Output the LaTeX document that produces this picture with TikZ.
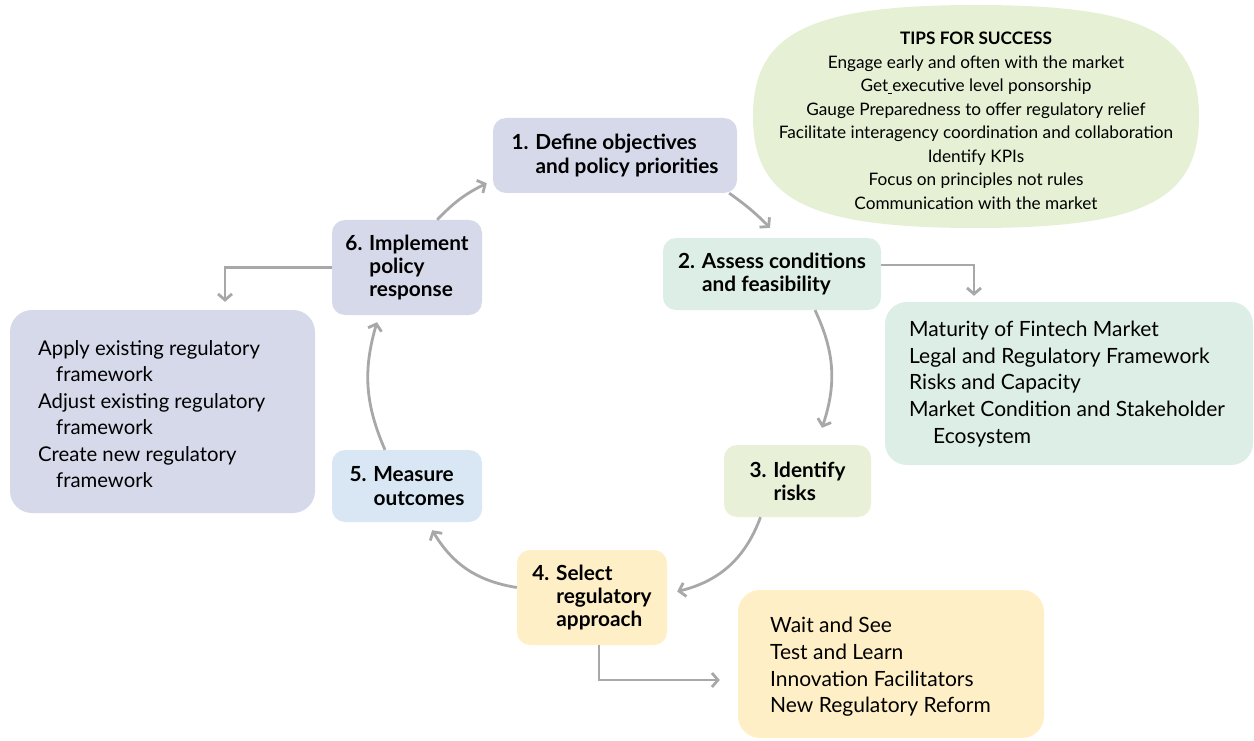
\documentclass[tikz,border=0pt]{standalone}
\usepackage{fontspec}
\setmainfont{Lato}
\usetikzlibrary{arrows.meta}
\definecolor{lav}{HTML}{D6D9EA}
\definecolor{mint}{HTML}{DDEEE6}
\definecolor{lgreen}{HTML}{E8F1D8}
\definecolor{lyellow}{HTML}{FEEFC7}
\definecolor{lblue}{HTML}{D9E7F5}
\definecolor{tipsgreen}{HTML}{E6F0D4}
\definecolor{arrowgray}{HTML}{A8A8AA}
\newcommand\myind{\hspace*{24pt}}
\begin{document}
\begin{tikzpicture}[x=1pt,y=-1pt,
  stepbox/.style={rounded corners=13pt, align=left, inner sep=0pt,
    font=\bfseries\fontsize{20.8}{23.3}\selectfont},
  bigbox/.style={rounded corners=22pt, inner sep=0pt},
  listtext/.style={anchor=west, align=left, inner sep=0pt,
    font=\fontsize{21}{26.7}\selectfont},
  flow/.style={draw=arrowgray, line width=2.8pt,
    -{Straight Barb[length=6pt,width=14pt]}}]
\useasboundingbox (0,0) rectangle (1254,741);

% tips blob (squircle-like)
\fill[tipsgreen] (1199,116.5)
  .. controls (1199,33) and (1143,5) .. (976,5)
  .. controls (809,5) and (753,33) .. (753,116.5)
  .. controls (753,200) and (809,228) .. (976,228)
  .. controls (1143,228) and (1199,200) .. (1199,116.5) -- cycle;
\node[align=center, inner sep=0pt, font=\fontsize{17.2}{23.5}\selectfont] (tipst) at (976,121)
 {{\bfseries TIPS FOR SUCCESS}\\
  Engage early and often with the market\\
  Get\rule[-1.5pt]{4pt}{0.6pt}executive level ponsorship\\
  Gauge Preparedness to offer regulatory relief\\
  Facilitate interagency coordination and collaboration\\
  Identify KPIs\\
  Focus on principles not rules\\
  Communication with the market};

% step boxes
\node[stepbox, fill=lav, minimum width=244pt, minimum height=75pt] (b1) at (615,155.5)
 {1. Define objectives\\\myind and policy priorities};
\node[stepbox, fill=mint, minimum width=218pt, minimum height=72pt] (b2) at (772,274)
 {2. Assess conditions\\\myind and feasibility};
\node[stepbox, fill=lgreen, minimum width=147pt, minimum height=72pt] (b3) at (797.5,481)
 {3. Identify\\\myind risks\hspace*{20pt}};
\node[stepbox, fill=lyellow, minimum width=150pt, minimum height=95pt] (b4) at (592,597.5)
 {4. Select\\\myind regulatory\\\myind approach};
\node[stepbox, fill=lblue, minimum width=150pt, minimum height=72pt] (b5) at (407,486)
 {5. Measure\\\myind outcomes};
\node[stepbox, fill=lav, minimum width=150pt, minimum height=95pt] (b6) at (407,267.5)
 {6. Implement\\\myind policy\\\myind response};

% detail boxes
\node[bigbox, fill=lav, minimum width=305pt, minimum height=203pt] (lb) at (162.5,411.5) {};
\node[listtext, font=\fontsize{20.3}{26.5}\selectfont] (lbt) at (38,414)
 {Apply existing regulatory\\\hspace*{18pt}framework\\
  Adjust existing regulatory\\\hspace*{18pt}framework\\
  Create new regulatory\\\hspace*{18pt}framework};
\node[bigbox, fill=mint, minimum width=368pt, minimum height=163pt] (rb) at (1069,383.5) {};
\node[listtext] (rbt) at (909,384)
 {Maturity of Fintech Market\\
  Legal and Regulatory Framework\\
  Risks and Capacity\\
  Market Condition and Stakeholder\\\hspace*{24pt}Ecosystem};
\node[bigbox, fill=lyellow, minimum width=306pt, minimum height=148pt] (yb) at (891,664) {};
\node[listtext] (ybt) at (770,667)
 {Wait and See\\Test and Learn\\Innovation Facilitators\\New Regulatory Reform};

% cycle arrows
\draw[flow] ([xshift=-45pt]b6.north east) to[bend left=10] ([xshift=-6pt,yshift=10pt]b1.south west);
\draw[flow] ([xshift=-8pt]b1.south east) to[bend left=5] ([xshift=-2pt,yshift=10pt]b2.north);
\draw[flow] ([xshift=43pt]b2.south) to[bend left=22] ([xshift=24.5pt,yshift=17pt]b3.north);
\draw[flow] ([xshift=-37pt]b3.south) to[bend left=28] ([xshift=10pt,yshift=6pt]b4.east);
\draw[flow] ([yshift=10pt]b4.west) to[bend left=25] ([xshift=-50pt,yshift=-8pt]b5.south east);
\draw[flow] ([xshift=-22pt]b5.north) to[bend left=20] ([xshift=-30pt,yshift=-7pt]b6.south);

% side arrows
\draw[flow] (b6.west) -| ([xshift=62.5pt,yshift=8pt]lb.north);
\draw[flow] ([yshift=9pt]b2.east) -| ([xshift=-95pt,yshift=6pt]rb.north);
\draw[flow] ([xshift=7pt]b4.south) |- ([xshift=-18pt,yshift=-16pt]yb.west);
\end{tikzpicture}
\end{document}
